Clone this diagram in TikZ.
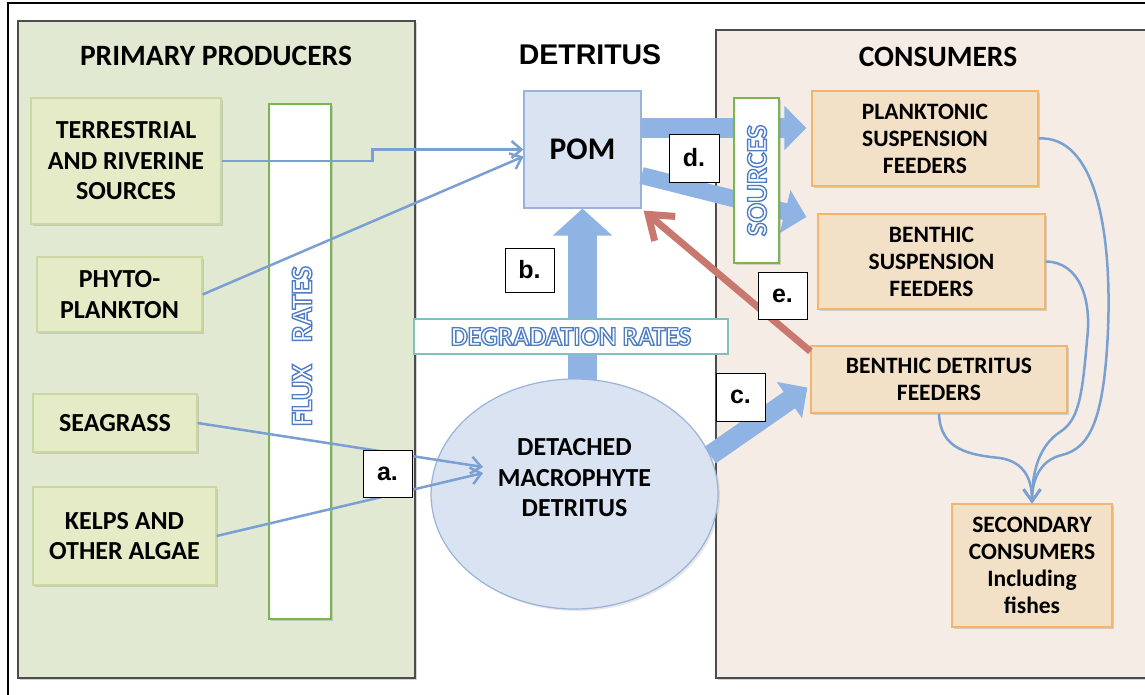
\documentclass[tikz,border=0pt]{standalone}
\usepackage{fontspec}
\newfontfamily\carlito{Carlito}
\newfontfamily\arialfont{Liberation Sans}
\usetikzlibrary{arrows.meta,shapes.geometric,shadows}

\definecolor{greenpanel}{RGB}{226,233,211}
\definecolor{greenbox}{RGB}{229,235,199}
\definecolor{greenline}{RGB}{201,216,160}
\definecolor{barline}{RGB}{122,182,78}
\definecolor{consumerpanel}{RGB}{245,237,229}
\definecolor{orangebox}{RGB}{242,224,199}
\definecolor{orangeline}{RGB}{242,181,110}
\definecolor{pomfill}{RGB}{217,227,242}
\definecolor{pomline}{RGB}{154,179,218}
\definecolor{tealline}{RGB}{130,192,192}
\definecolor{fatblue}{RGB}{143,180,228}
\definecolor{lineblue}{RGB}{122,159,211}
\definecolor{redline}{RGB}{200,120,110}

\newcommand{\boxfont}{\carlito\bfseries\fontsize{26}{30.5}\selectfont}
\newcommand{\consfont}{\carlito\bfseries\fontsize{23.5}{27}\selectfont}
\newcommand{\titlefont}{\carlito\bfseries\fontsize{29.5}{32}\selectfont}
% outlined blue letters, white inside
\newcommand{\hollow}[1]{{\color{white}\special{pdf:literal direct 2 Tr 1.4 w 0.31 0.49 0.77 RG}#1\special{pdf:literal direct 0 Tr}}}

\tikzstyle{panel} = [line width=1.2pt, draw=black!70, drop shadow={opacity=0.35,shadow xshift=2pt,shadow yshift=-2pt}]
\tikzstyle{prod} = [draw=greenline, fill=greenbox, line width=1.2pt, align=center, inner sep=0pt, font=\boxfont, drop shadow={opacity=0.3,shadow xshift=2pt,shadow yshift=-2pt}]
\tikzstyle{cons} = [draw=orangeline, fill=orangebox, line width=1.2pt, align=center, inner sep=0pt, font=\consfont, drop shadow={opacity=0.3,shadow xshift=2pt,shadow yshift=-2pt}]
\tikzstyle{bar} = [draw=barline, fill=white, line width=1.5pt, inner sep=0pt, drop shadow={opacity=0.3,shadow xshift=2pt,shadow yshift=-2pt}]
\tikzstyle{tag} = [draw=black, fill=white, line width=1pt, inner sep=0pt, minimum width=49pt, minimum height=47pt, font=\arialfont\bfseries\fontsize{25}{28}\selectfont]
\tikzstyle{fat} = [draw=fatblue, line width=20pt, -{Triangle[width=43pt,length=22pt]}]
\tikzstyle{feed} = [draw=lineblue, line width=2.5pt, -{Straight Barb[length=10pt,width=17pt]}]
\tikzstyle{eat} = [draw=lineblue, line width=2.5pt, -{Straight Barb[length=12pt,width=17pt]}]

\begin{document}
\begin{tikzpicture}[x=1pt, y=-1pt]
\useasboundingbox (0,0) rectangle (1145,694);
%panels
\draw[panel, fill=greenpanel] (18,21) rectangle (415,678);
\draw[panel, fill=consumerpanel] (716,30) rectangle (1170,678);
\draw[line width=2pt] (8,3) rectangle (1180,720);

%titles
\node[font=\titlefont] (tprod) at (216,56) {PRIMARY PRODUCERS};
\node[font=\arialfont\bfseries\fontsize{28.5}{32}\selectfont] (tdet) at (590,55) {DETRITUS};
\node[font=\titlefont] (tcons) at (938,57) {CONSUMERS};

%begin producers
\node[bar, minimum width=62pt, minimum height=515pt] (flux) at (300,361.5) {};
\node[rotate=90, font=\carlito\bfseries\fontsize{30}{32}\selectfont] (fluxtext) at (302,346) {\hollow{FLUX\hspace{22pt}RATES}};
\node[prod, minimum width=190pt, minimum height=126pt] (terr) at (126,161) {TERRESTRIAL\\AND RIVERINE\\SOURCES};
\node[prod, minimum width=165pt, minimum height=75pt] (phyto) at (119.5,294.5) {PHYTO-\\PLANKTON};
\node[prod, minimum width=164pt, minimum height=58pt] (seag) at (115,423) {SEAGRASS};
\node[prod, minimum width=183pt, minimum height=98pt] (kelps) at (124.5,536) {KELPS AND\\OTHER ALGAE};
%end producers

%begin detritus
\node[draw=pomline, fill=pomfill, line width=1.2pt, minimum width=117pt, minimum height=117pt, font=\carlito\bfseries\fontsize{31.5}{34}\selectfont] (pom) at (582.5,149.5) {POM};
\draw[fat, line width=29pt, -{Triangle[width=58pt,length=27pt]}] (pom.south |- 494,494) -- (pom.south);
\node[draw=tealline, fill=white, line width=1.2pt, minimum width=314pt, minimum height=35pt, inner sep=0pt, font=\carlito\bfseries\fontsize{27}{29}\selectfont] (degr) at (571,336.5) {\hollow{DEGRADATION RATES}};
\node[ellipse, draw=pomline, fill=pomfill, line width=1.2pt, minimum width=287pt, minimum height=230pt, inner sep=0pt, drop shadow={opacity=0.2,shadow xshift=2pt,shadow yshift=-2pt}] (mac) at (574.5,494) {};
\node[align=center, font=\boxfont] (mactext) at (574.5,478) {DETACHED\\MACROPHYTE\\DETRITUS};
%end detritus

%begin consumers
\node[cons, minimum width=226pt, minimum height=95pt] (plank) at (925,138.5) {PLANKTONIC\\SUSPENSION\\FEEDERS};
\node[cons, minimum width=227pt, minimum height=95pt] (bss) at (931.5,261.5) {BENTHIC\\SUSPENSION\\FEEDERS};
\node[cons, minimum width=256pt, minimum height=67pt] (bdf) at (939,379.5) {BENTHIC DETRITUS\\FEEDERS};
\node[cons, minimum width=160pt, minimum height=123pt] (sec) at (1032,565.5) {SECONDARY\\CONSUMERS\\Including\\fishes};
%end consumers

%fluxes
\draw[feed] (terr.east) -- ++(151,0) |- (pom.west);
\draw[feed] (phyto.east) -- ([yshift=-7pt]pom.west);
\coordinate (macin) at (483,470);
\draw[feed] (seag.east) -- ([yshift=3pt]macin);
\draw[feed] (kelps.east) -- ([yshift=-3pt]macin);
\draw[fat] (mac.16) -- ([xshift=-3pt,yshift=-8pt]bdf.west);
\draw[fat] ([yshift=21.5pt]pom.east) -- ([xshift=-5pt,yshift=10.5pt]plank.west);
\draw[fat, line width=17pt] ([yshift=-26pt]pom.east) -- ([xshift=-11pt,yshift=44.5pt]bss.west);
\node[bar, minimum width=45pt, minimum height=165pt] (src) at (756.5,180.5) {};
\node[rotate=90, font=\carlito\bfseries\fontsize{29}{31}\selectfont] (srctext) at (757,180.5) {\hollow{SOURCES}};
\draw[draw=redline, line width=7pt, -{Straight Barb[length=22pt,width=32pt]}] ([yshift=-6pt]bdf.north west) -- ([xshift=2pt,yshift=-2pt]pom.south east);

%feeding on consumers
\draw[eat] (plank.east) .. controls (1095,135) and (1112,230) .. (1108,330) .. controls (1104,420) and (1090,448) .. (1062,455) .. controls (1040,460) and (1032,480) .. (sec.north);
\draw[eat] (bss.east) .. controls (1080,262) and (1092,300) .. (1087,340) .. controls (1082,400) and (1078,420) .. (1060,432) .. controls (1040,445) and (1032,470) .. (sec.north);
\draw[eat] (bdf.south) .. controls (940,450) and (970,455) .. (1000,458) .. controls (1025,462) and (1032,480) .. (sec.north);

%tags
\node[tag] (ta) at (387.5,473.5) {a.};
\node[tag, minimum height=44pt] (tb) at (529.5,270) {b.};
\node[tag, minimum height=48pt] (tc) at (740.5,397) {c.};
\node[tag, minimum width=50pt, minimum height=48pt] (td) at (694,158) {d.};
\node[tag] (te) at (782.5,295.5) {e.};
\end{tikzpicture}
\end{document}
